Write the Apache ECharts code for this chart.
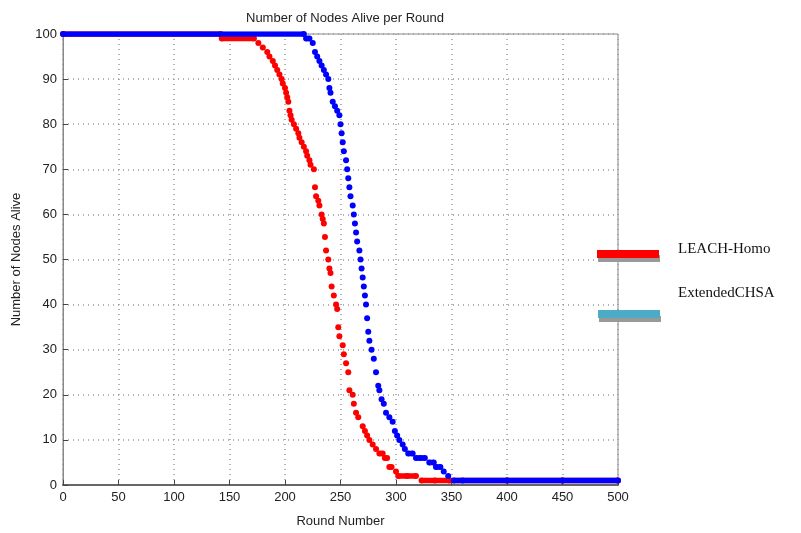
<!DOCTYPE html>
<html>
<head>
<meta charset="utf-8">
<script src="https://cdn.jsdelivr.net/npm/echarts@6/dist/echarts.min.js"></script>
<style>html,body{margin:0;padding:0;background:#fff}#c{width:801px;height:533px}</style>
</head>
<body>
<div id="c"></div>
<script>
const seriesNames = ['LEACH-Homo', 'ExtendedCHSA'];
const xTicks = [0, 50, 100, 150, 200, 250, 300, 350, 400, 450, 500];
const yTicks = [0, 10, 20, 30, 40, 50, 60, 70, 80, 90, 100];

const leachRounds = [0,142,143,172,176,180,184,186,189,191,193,195,197,198,200,201,202,203,204,205,206,208,210,212,213,215,217,219,220,222,223,226,227,228,230,231,233,234,235,236,237,239,240,241,242,244,246,247,248,249,252,253,255,257,258,261,262,264,266,270,272,274,276,279,282,285,288,290,292,294,296,300,302,310,318,323,335,348,400,450,500];
const leachAlive  = [100,100,99,99,98,97,96,95,94,93,92,91,90,89,88,87,86,85,83,82,81,80,79,78,77,76,75,74,73,72,71,70,66,64,63,62,60,59,58,55,52,50,48,47,44,42,40,39,35,33,31,29,27,25,21,20,18,16,15,13,12,11,10,9,8,7,7,6,6,4,4,3,2,2,2,1,1,1,1,1,1];

const chsaRounds = [0,217,219,222,225,227,229,231,233,235,237,239,240,241,243,245,247,249,250,251,252,253,255,256,257,258,259,261,262,263,264,265,267,268,269,270,271,272,273,274,275,276,278,280,282,284,285,287,289,291,294,297,299,301,303,306,308,311,315,318,322,326,330,334,336,340,343,347,352,360,400,450,500];
const chsaAlive  = [100,100,99,99,98,96,95,94,93,92,91,90,88,87,85,84,83,82,80,78,76,74,72,70,68,66,64,62,60,58,56,54,52,50,48,46,44,42,40,37,34,32,30,28,25,22,21,19,18,16,15,14,12,11,10,9,8,7,7,6,6,6,5,5,4,4,3,2,1,1,1,1,1];

const colors = ['#ff0000', '#0000ff'];
const legendColors = ['#ff0000', '#4bacc6'];

function pts(xs, ys){ return xs.map((x,i)=>[x, ys[i]]); }
function flatRuns(xs, ys, color, name, z){
  const out = [];
  for (let i = 0; i < xs.length - 1; i++) {
    if (ys[i] === ys[i+1]) {
      out.push({
        type: 'line', name: name, silent: true, symbol: 'none',
        data: [[xs[i], ys[i]], [xs[i+1], ys[i+1]]],
        lineStyle: { color: color, width: 5.5, opacity: 1 }, z: z
      });
    }
  }
  return out;
}

const series = [];
[[leachRounds, leachAlive], [chsaRounds, chsaAlive]].forEach((d, k) => {
  const z = 3 + k * 2;
  series.push(...flatRuns(d[0], d[1], colors[k], seriesNames[k], z));
  series.push({
    type: 'scatter', name: seriesNames[k], data: pts(d[0], d[1]),
    symbol: 'circle', symbolSize: 6,
    itemStyle: { color: colors[k], opacity: 1 }, z: z + 1
  });
});

const axisFont = { fontFamily: 'Liberation Sans, Arial, sans-serif', fontSize: 13, color: '#222' };

const chart = echarts.init(document.getElementById('c'), null, { renderer: 'canvas' });
chart.setOption({
  backgroundColor: '#fff',
  animation: false,
  title: {
    text: 'Number of Nodes Alive per Round',
    left: 340, top: 7, textAlign: 'center',
    textStyle: { fontFamily: 'Liberation Sans, Arial, sans-serif', fontSize: 13, fontWeight: 'normal', color: '#222' }
  },
  grid: { left: 63, right: 183, top: 34, bottom: 47, show: true, borderColor: '#888', borderWidth: 1, backgroundColor: 'transparent' },
  xAxis: {
    type: 'value', min: xTicks[0], max: xTicks[xTicks.length-1], interval: 50,
    name: 'Round Number', nameLocation: 'middle', nameGap: 30,
    nameTextStyle: axisFont,
    axisLine: { lineStyle: { color: '#666', width: 2 } },
    axisTick: { inside: true, length: 5, lineStyle: { color: '#444' } },
    axisLabel: Object.assign({ margin: 6 }, axisFont),
    splitLine: { show: true, lineStyle: { color: '#999', type: [1, 4], width: 1.5 } }
  },
  yAxis: {
    type: 'value', min: yTicks[0], max: yTicks[yTicks.length-1], interval: 10,
    name: 'Number of Nodes Alive', nameLocation: 'middle', nameGap: 40,
    nameTextStyle: axisFont,
    axisLine: { show: true, lineStyle: { color: '#888', width: 1 } },
    axisTick: { inside: true, length: 5, lineStyle: { color: '#444' } },
    axisLabel: Object.assign({ margin: 6 }, axisFont),
    splitLine: { show: true, lineStyle: { color: '#999', type: [1, 4], width: 1.5 } }
  },
  series: series,
  graphic: [
    { type: 'rect', shape: { x: 598, y: 255, width: 62, height: 7 }, style: { fill: '#999' }, z: 10 },
    { type: 'rect', shape: { x: 597, y: 250, width: 62, height: 8 }, style: { fill: legendColors[0] }, z: 11 },
    { type: 'rect', shape: { x: 599, y: 316, width: 62, height: 6 }, style: { fill: '#999' }, z: 10 },
    { type: 'rect', shape: { x: 598, y: 310, width: 62, height: 8 }, style: { fill: legendColors[1] }, z: 11 },
    { type: 'text', x: 678, y: 249, style: { text: seriesNames[0], fontFamily: 'Liberation Serif, Times New Roman, serif', fontSize: 15, fill: '#111', verticalAlign: 'middle' }, z: 11 },
    { type: 'text', x: 678, y: 293, style: { text: seriesNames[1], fontFamily: 'Liberation Serif, Times New Roman, serif', fontSize: 15, fill: '#111', verticalAlign: 'middle' }, z: 11 }
  ]
});
</script>
</body>
</html>
